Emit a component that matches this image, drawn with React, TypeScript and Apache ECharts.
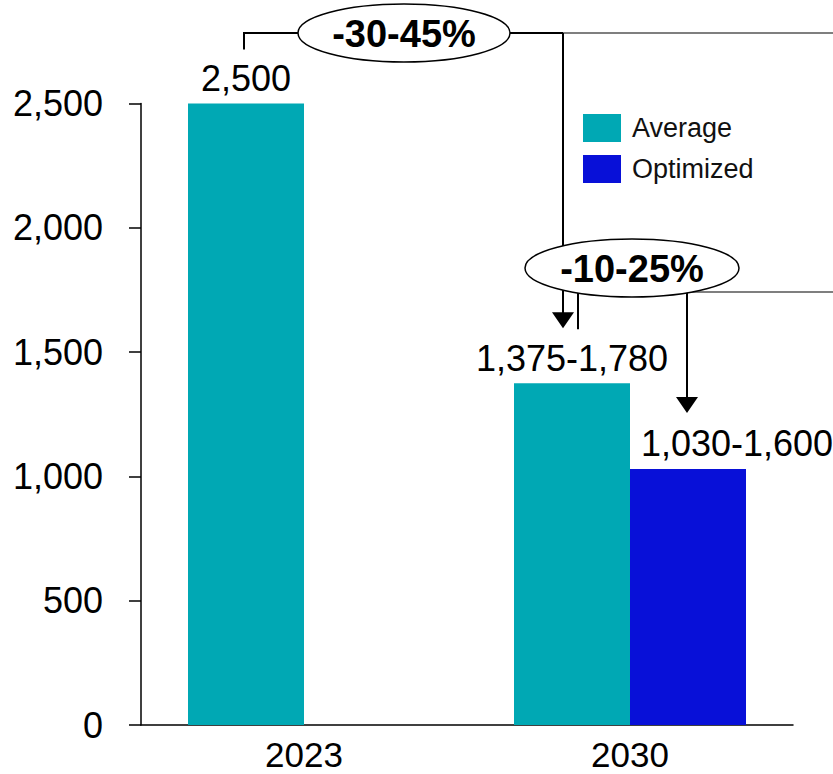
import React, { useEffect, useRef } from "react";
import * as echarts from "echarts";

const categories = ["2023", "2030"];
const averageValues = [2500, 1375];
const optimizedValues: (number | null)[] = [null, 1030];
const averageLabels = ["2,500", "1,375-1,780"];
const optimizedLabels = ["", "1,030-1,600"];
const reductionLabels = ["-30-45%", "-10-25%"];
const yTicks = { min: 0, max: 2500, interval: 500 };

const TEAL = "#00A8B4";
const BLUE = "#0810D8";
const FONT = "'Liberation Sans', Arial, sans-serif";

export default function App() {
  const ref = useRef<HTMLDivElement>(null);
  useEffect(() => {
    document.body.style.margin = "0";
    const chart = echarts.init(ref.current!, null, { renderer: "svg" });
    const barWidth = 116;
    chart.setOption({
      animation: false,
      textStyle: { fontFamily: FONT },
      grid: { left: 141, right: 40, top: 103.5, bottom: 49, containLabel: false },
      legend: {
        orient: "vertical",
        left: 583,
        top: 114,
        padding: 0,
        itemWidth: 38,
        itemHeight: 28,
        itemGap: 13,
        icon: "rect",
        textStyle: { fontSize: 27, color: "#111", fontFamily: FONT, padding: [0, 0, 0, 6] },
        data: ["Average", "Optimized"],
      },
      xAxis: {
        type: "category",
        data: categories,
        axisLine: { lineStyle: { color: "#000", width: 1.5 } },
        axisTick: { show: false },
        axisLabel: { fontSize: 35, lineHeight: 32, color: "#000", margin: 13, fontFamily: FONT },
      },
      yAxis: {
        type: "value",
        min: yTicks.min,
        max: yTicks.max,
        interval: yTicks.interval,
        splitLine: { show: false },
        axisLine: { show: true, lineStyle: { color: "#000", width: 1.5 } },
        axisTick: { show: true, inside: false, length: 12, lineStyle: { color: "#000", width: 1.5 } },
        axisLabel: {
          fontSize: 36,
          color: "#000",
          margin: 38,
          fontFamily: FONT,
          formatter: (v: number) => v.toLocaleString("en-US"),
        },
      },
      series: [
        {
          name: "Average",
          type: "bar",
          data: averageValues,
          barWidth,
          barGap: "0%",
          itemStyle: { color: TEAL },
          label: {
            show: true,
            position: "top",
            distance: 7,
            fontSize: 36,
            color: "#000",
            fontFamily: FONT,
            formatter: (p: any) => averageLabels[p.dataIndex],
          },
        },
        {
          name: "Optimized",
          type: "bar",
          data: optimizedValues,
          barWidth,
          itemStyle: { color: BLUE },
          label: {
            show: true,
            position: "top",
            distance: 7,
            offset: [49, 0],
            fontSize: 36,
            color: "#000",
            fontFamily: FONT,
            formatter: (p: any) => optimizedLabels[p.dataIndex],
          },
        },
      ],
    });

    const cx = (i: number) => chart.convertToPixel({ xAxisIndex: 0 }, i) as number;
    const cy = (v: number) => chart.convertToPixel({ yAxisIndex: 0 }, v) as number;
    const avg23 = cx(0) - barWidth / 2;
    const avg30 = cx(1) - barWidth / 2;
    const opt30 = cx(1) + barWidth / 2;
    const top23 = cy(averageValues[0]);
    const topAvg30 = cy(averageValues[1]);
    const topOpt30 = cy(optimizedValues[1] as number);
    const W = 833;

    const row1 = top23 - 70.5;
    const e1x = 404;
    const x1 = avg30 - 9;
    const tip1 = topAvg30 - 55;
    const e2x = 632;
    const e2y = 268;
    const row2 = 292;
    const tip2 = topOpt30 - 56;
    const blk = { stroke: "#000", lineWidth: 2 };
    const gray = { stroke: "#555", lineWidth: 1.5 };

    const arrow = (x: number, tip: number) => ({
      type: "polygon",
      shape: { points: [[x - 11, tip - 16], [x + 11, tip - 16], [x, tip]] },
      style: { fill: "#000" },
    });

    chart.setOption({
      graphic: [
        { type: "polyline", shape: { points: [[avg23 - 2, top23 - 54], [avg23 - 2, row1], [x1, row1]] }, style: { ...blk, fill: null } },
        { type: "line", shape: { x1: x1, y1: row1, x2: W, y2: row1 }, style: gray },
        { type: "line", shape: { x1: x1, y1: row1, x2: x1, y2: tip1 - 10 }, style: blk },
        arrow(x1, tip1),
        { type: "line", shape: { x1: avg30 + 6, y1: e2y + 24, x2: avg30 + 6, y2: tip1 + 1 }, style: blk },
        { type: "line", shape: { x1: opt30 - 8, y1: row2, x2: W, y2: row2 }, style: gray },
        { type: "line", shape: { x1: opt30 - 1, y1: row2, x2: opt30 - 1, y2: tip2 - 10 }, style: blk },
        arrow(opt30 - 1, tip2),
        {
          type: "ellipse",
          shape: { cx: e1x, cy: row1, rx: 106, ry: 29 },
          style: { fill: "#fff", stroke: "#000", lineWidth: 1.5 },
          z: 10,
        },
        {
          type: "text",
          x: e1x,
          y: row1 + 1,
          z: 11,
          style: {
            text: reductionLabels[0],
            align: "center",
            verticalAlign: "middle",
            fontSize: 38,
            fontWeight: "bold",
            fontFamily: FONT,
            fill: "#000",
          },
        },
        {
          type: "ellipse",
          shape: { cx: e2x, cy: e2y, rx: 107, ry: 29 },
          style: { fill: "#fff", stroke: "#000", lineWidth: 1.5 },
          z: 10,
        },
        {
          type: "text",
          x: e2x,
          y: e2y + 1,
          z: 11,
          style: {
            text: reductionLabels[1],
            align: "center",
            verticalAlign: "middle",
            fontSize: 38,
            fontWeight: "bold",
            fontFamily: FONT,
            fill: "#000",
          },
        },
      ],
    });
    return () => chart.dispose();
  }, []);
  return <div ref={ref} style={{ width: 833, height: 774 }} />;
}
